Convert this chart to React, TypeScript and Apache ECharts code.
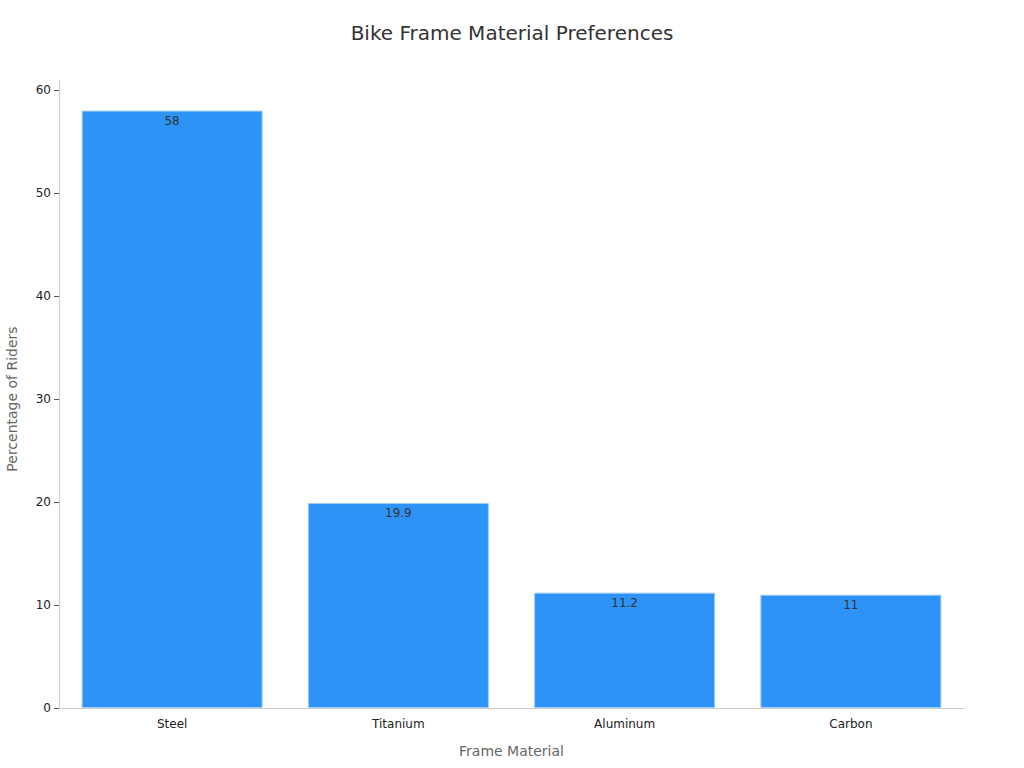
import React, { useEffect, useRef } from "react";
import * as echarts from "echarts";

const categories = ["Steel", "Titanium", "Aluminum", "Carbon"];
const values = [58, 19.9, 11.2, 11];
const yTicks = [0, 10, 20, 30, 40, 50, 60];

export default function App() {
  const ref = useRef<HTMLDivElement>(null);
  useEffect(() => {
    if (!ref.current) return;
    const chart = echarts.init(ref.current, undefined, { renderer: "svg" });
    chart.setOption({
      animation: false,
      textStyle: { fontFamily: "DejaVu Sans" },
      title: {
        text: "Bike Frame Material Preferences",
        left: "center",
        top: 18,
        textStyle: { fontSize: 20, fontWeight: "normal", color: "#333" },
      },
      grid: { left: 59, right: 60, top: 90, bottom: 60, outerBoundsMode: "none", containLabel: false },
      graphic: [
        {
          type: "line",
          shape: { x1: 59.5, y1: 80, x2: 59.5, y2: 90 },
          style: { stroke: "#ccc", lineWidth: 1 },
        },
      ],
      xAxis: {
        type: "category",
        data: categories,
        name: "Frame Material",
        nameLocation: "middle",
        nameGap: 36,
        nameTextStyle: { fontSize: 14, color: "#666" },
        axisLine: { lineStyle: { color: "#ccc" } },
        axisTick: { alignWithLabel: true, lineStyle: { color: "#999" } },
        axisLabel: { color: "#222", fontSize: 12, margin: 10 },
      },
      yAxis: {
        type: "value",
        min: 0,
        max: 60,
        interval: 10,
        name: "Percentage of Riders",
        nameLocation: "middle",
        nameGap: 40,
        nameTextStyle: { fontSize: 14, color: "#666" },
        axisLine: { show: true, lineStyle: { color: "#ccc" } },
        axisTick: { show: true, lineStyle: { color: "#555" } },
        axisLabel: {
          color: "#222",
          fontSize: 12,
          formatter: (v: number) => (yTicks.includes(v) ? String(v) : ""),
        },
        splitLine: { show: false },
      },
      series: [
        {
          type: "bar",
          data: values,
          barWidth: "80%",
          itemStyle: { color: "#2E93F7", borderColor: "#9fcdf8", borderWidth: 1 },
          label: {
            show: true,
            position: "insideTop",
            distance: 4,
            color: "#333",
            fontSize: 12,
          },
        },
      ],
    });
    return () => chart.dispose();
  }, []);
  return <div ref={ref} style={{ width: 1024, height: 768, position: "absolute", left: 0, top: 0 }} />;
}
